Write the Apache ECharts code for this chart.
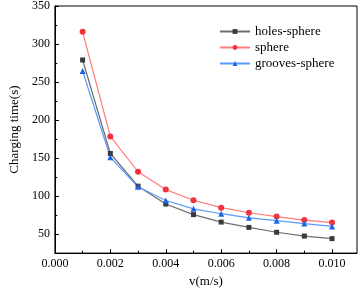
<!DOCTYPE html>
<html><head><meta charset="utf-8">
<script src="https://cdn.jsdelivr.net/npm/echarts@6/dist/echarts.min.js"></script>
<style>html,body{margin:0;padding:0;background:#fff}#c{width:360px;height:293px}</style>
</head><body><div id="c"></div>
<script>
const velocities = [0.001, 0.002, 0.003, 0.004, 0.005, 0.006, 0.007, 0.008, 0.009, 0.010];
const holesSphere = [279, 156, 113, 89.5, 75.6, 65.8, 58.8, 52.4, 47.4, 44];
const sphere = [316, 178.5, 132, 108.5, 94.5, 84.8, 78.1, 73, 68.4, 65.1];
const groovesSphere = [264.5, 151, 112.3, 94.2, 83.2, 76.8, 71.4, 67.6, 63.8, 60.1];
const xMajorTicks = [0, 0.002, 0.004, 0.006, 0.008, 0.010];
const xMinorTicks = [0.001, 0.003, 0.005, 0.007, 0.009];
const yMajorTicks = [50, 100, 150, 200, 250, 300, 350];
const yMinorTicks = [25, 75, 125, 175, 225, 275, 325];

const FONT = '"Liberation Serif", "Times New Roman", serif';
const pairs = arr => velocities.map((v, i) => [v, arr[i]]);

const chart = echarts.init(document.getElementById('c'));
const baseX = {type: 'value', min: 0, max: 0.0109, splitLine: {show: false}};
const baseY = {type: 'value', min: 25, max: 350, splitLine: {show: false}};
chart.setOption({
  animation: false,
  grid: {left: 38, right: 3, top: 3, bottom: 33, show: true, borderColor: '#000', borderWidth: 1},
  xAxis: [
    Object.assign({}, baseX, {
      name: 'v(m/s)', nameLocation: 'middle', nameGap: 19,
      nameTextStyle: {fontFamily: FONT, fontSize: 13, color: '#000'},
      axisLine: {lineStyle: {color: '#000', width: 1}},
      axisTick: {inside: true, length: 4, lineStyle: {color: '#000'}, customValues: xMajorTicks},
      axisLabel: {customValues: xMajorTicks, fontFamily: FONT, fontSize: 12, color: '#000', margin: 5,
        formatter: v => v.toFixed(3)}
    }),
    Object.assign({}, baseX, {
      position: 'bottom',
      axisLine: {show: false},
      axisTick: {inside: true, length: 2.5, lineStyle: {color: '#000'}, customValues: xMinorTicks},
      axisLabel: {show: false}
    })
  ],
  yAxis: [
    Object.assign({}, baseY, {
      name: 'Charging time(s)', nameLocation: 'middle', nameGap: 27,
      nameTextStyle: {fontFamily: FONT, fontSize: 13, color: '#000'},
      axisLine: {show: true, lineStyle: {color: '#000', width: 1}},
      axisTick: {show: true, inside: true, length: 4, lineStyle: {color: '#000'}, customValues: yMajorTicks},
      axisLabel: {customValues: yMajorTicks, fontFamily: FONT, fontSize: 12, color: '#000', margin: 5}
    }),
    Object.assign({}, baseY, {
      position: 'left',
      axisLine: {show: false},
      axisTick: {show: true, inside: true, length: 2.5, lineStyle: {color: '#000'}, customValues: yMinorTicks},
      axisLabel: {show: false}
    })
  ],
  legend: {
    orient: 'vertical', left: 214, top: 20, itemWidth: 30, itemHeight: 6, itemGap: 3,
    textStyle: {fontFamily: FONT, fontSize: 13, color: '#000'},
    data: ['holes-sphere', 'sphere', 'grooves-sphere']
  },
  series: [
    {name: 'holes-sphere', type: 'line', data: pairs(holesSphere), symbol: 'rect', symbolSize: 5,
      itemStyle: {color: '#3a3a3a'}, lineStyle: {color: '#6e6e6e', width: 1.2}},
    {name: 'sphere', type: 'line', data: pairs(sphere), symbol: 'circle', symbolSize: 6,
      itemStyle: {color: '#f0323c'}, lineStyle: {color: '#ff7a7a', width: 1.2}},
    {name: 'grooves-sphere', type: 'line', data: pairs(groovesSphere), symbol: 'triangle', symbolSize: 6,
      itemStyle: {color: '#1f64e6'}, lineStyle: {color: '#5a9aff', width: 1.2}}
  ]
});
</script></body></html>
